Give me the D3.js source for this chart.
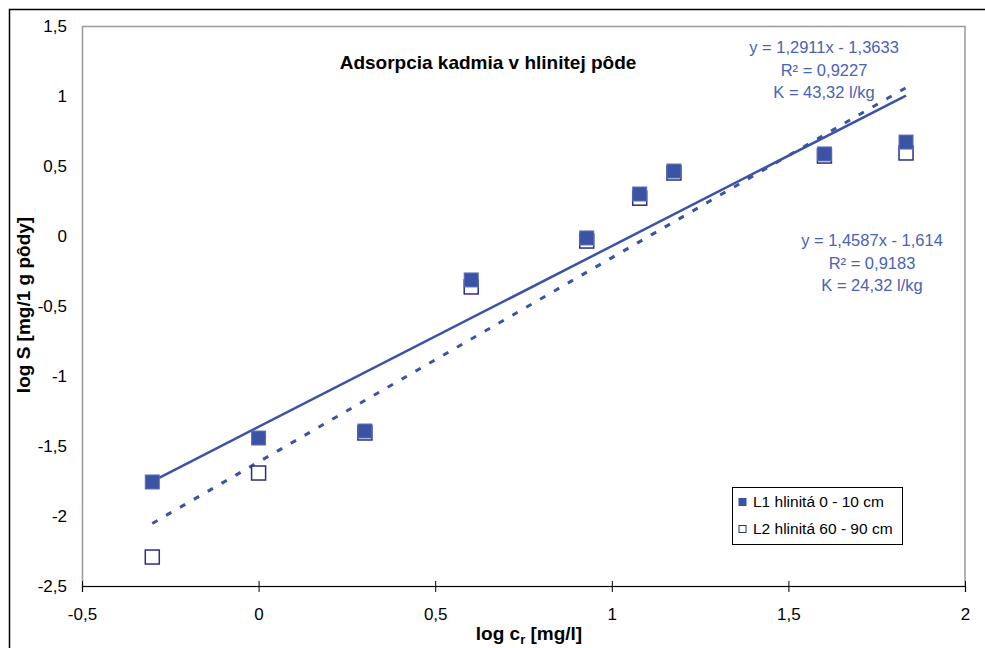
<!DOCTYPE html>
<html>
<head>
<meta charset="utf-8">
<script src="https://cdn.jsdelivr.net/npm/d3@7"></script>
<style>
  body { margin: 0; background: #fff; }
  svg { font-family: "Liberation Sans", Arial, sans-serif; }
</style>
</head>
<body>
<svg id="chart" width="985" height="648"></svg>
<script>
// data (log c_r, log S)
var logC = [-0.301, 0, 0.301, 0.602, 0.929, 1.079, 1.176, 1.602, 1.833];
var L1 = [-1.757, -1.443, -1.393, -0.314, -0.014, 0.300, 0.464, 0.586, 0.671];
var L2 = [-2.293, -1.693, -1.407, -0.364, -0.036, 0.270, 0.450, 0.571, 0.593];
var seriesNames = ["L1 hlinitá 0 - 10 cm", "L2 hlinitá 60 - 90 cm"];
var fit1 = { a: 1.2911, b: -1.3633, label: ["y = 1,2911x - 1,3633", "R² = 0,9227", "K = 43,32 l/kg"] };
var fit2 = { a: 1.4587, b: -1.614, label: ["y = 1,4587x - 1,614", "R² = 0,9183", "K = 24,32 l/kg"] };
var xTicks = [-0.5, 0, 0.5, 1, 1.5, 2];
var yTicks = [-2.5, -2, -1.5, -1, -0.5, 0, 0.5, 1, 1.5];

var blue = "#3a53a4";
var navy = "#2b2f7f";
var labelBlue = "#4863b4";

var svg = d3.select("#chart");
var margin = { top: 26, right: 20, bottom: 62, left: 82 };
var width = 965 - margin.left;
var height = 586 - margin.top;

var fmt = function(d) { return String(d).replace(".", ","); };

// outer frame (only top and left visible)
svg.append("rect")
    .attr("x", 9.5).attr("y", 9.5)
    .attr("width", 1000).attr("height", 700)
    .attr("fill", "none")
    .attr("stroke", "#000")
    .attr("stroke-width", 1.5);

var g = svg.append("g")
    .attr("transform", "translate(" + margin.left + "," + margin.top + ")");

var x = d3.scaleLinear().domain([-0.5, 2]).range([0, width]);
var y = d3.scaleLinear().domain([-2.5, 1.5]).range([height, 0]);

// plot area border
g.append("rect")
    .attr("x", 0.5).attr("y", 0.5)
    .attr("width", width - 0.5).attr("height", height)
    .attr("fill", "none")
    .attr("stroke", "#999")
    .attr("stroke-width", 1.5);

// y axis labels (no ticks)
g.append("g").selectAll("text")
    .data(yTicks)
    .enter()
    .append("text")
    .attr("x", -15)
    .attr("y", function(d) { return y(d); })
    .attr("dy", "0.35em")
    .attr("text-anchor", "end")
    .style("font-size", "17px")
    .text(fmt);

// x axis
var xAxis = d3.axisBottom(x).tickValues(xTicks).tickSize(6).tickFormat(fmt);
var xg = g.append("g")
    .attr("transform", "translate(0," + height + ")")
    .call(xAxis);
xg.select(".domain").attr("stroke", "#000").attr("stroke-width", 1.2);
xg.selectAll(".tick line").attr("y1", -5).attr("y2", 6).attr("stroke", "#000");
xg.selectAll(".tick text")
    .attr("y", 22)
    .style("font-size", "17px")
    .style("font-family", "Liberation Sans, Arial, sans-serif")
    .attr("fill", "#000");

// axis titles
var xt = svg.append("text")
    .attr("x", 529).attr("y", 640)
    .attr("text-anchor", "middle")
    .style("font-size", "19px")
    .style("font-weight", "bold");
xt.append("tspan").text("log c");
xt.append("tspan").attr("dy", 4).style("font-size", "13px").text("r");
xt.append("tspan").attr("dy", -4).text(" [mg/l]");

svg.append("text")
    .attr("transform", "translate(30,305) rotate(-90)")
    .attr("text-anchor", "middle")
    .style("font-size", "19px")
    .style("font-weight", "bold")
    .text("log S [mg/1 g pôdy]");

// title
svg.append("text")
    .attr("x", 488).attr("y", 69)
    .attr("text-anchor", "middle")
    .style("font-size", "19px")
    .style("font-weight", "bold")
    .text("Adsorpcia kadmia v hlinitej pôde");

// trend lines
var xmin = d3.min(logC), xmax = d3.max(logC);
function trend(f) {
    return [[xmin, f.a * xmin + f.b], [xmax, f.a * xmax + f.b]];
}
var line = d3.line().x(function(d) { return x(d[0]); }).y(function(d) { return y(d[1]); });

g.append("path")
    .datum(trend(fit2))
    .attr("d", line)
    .attr("fill", "none")
    .attr("stroke", blue)
    .attr("stroke-width", 3)
    .attr("stroke-dasharray", "6,10");

g.append("path")
    .datum(trend(fit1))
    .attr("d", line)
    .attr("fill", "none")
    .attr("stroke", blue)
    .attr("stroke-width", 2.5);

// markers
var ms = 14;
g.selectAll(".m2")
    .data(logC.map(function(c, i) { return [c, L2[i]]; }))
    .enter()
    .append("rect")
    .attr("class", "m2")
    .attr("x", function(d) { return x(d[0]) - ms / 2; })
    .attr("y", function(d) { return y(d[1]) - ms / 2; })
    .attr("width", ms).attr("height", ms)
    .attr("fill", "#fff")
    .attr("stroke", navy)
    .attr("stroke-width", 1.5);

g.selectAll(".m1")
    .data(logC.map(function(c, i) { return [c, L1[i]]; }))
    .enter()
    .append("rect")
    .attr("class", "m1")
    .attr("x", function(d) { return x(d[0]) - ms / 2; })
    .attr("y", function(d) { return y(d[1]) - ms / 2; })
    .attr("width", ms).attr("height", ms)
    .attr("fill", blue)
    .attr("stroke", "#5a6fb8")
    .attr("stroke-width", 1);

// trendline labels
function fitLabel(f, cx, y0) {
    svg.append("g").selectAll("text")
        .data(f.label)
        .enter()
        .append("text")
        .attr("x", cx)
        .attr("y", function(d, i) { return y0 + i * 22.5; })
        .attr("text-anchor", "middle")
        .attr("fill", labelBlue)
        .style("font-size", "16.5px")
        .text(function(d) { return d; });
}
fitLabel(fit1, 824, 53);
fitLabel(fit2, 872, 246);

// legend
var legend = svg.append("g").attr("class", "legend");
legend.append("rect")
    .attr("x", 732.5).attr("y", 487.5)
    .attr("width", 170).attr("height", 57)
    .attr("fill", "#fff")
    .attr("stroke", "#000");
seriesNames.forEach(function(name, i) {
    var ly = 502 + i * 27;
    legend.append("rect")
        .attr("x", 739).attr("y", ly - 3.5)
        .attr("width", 7).attr("height", 7)
        .attr("fill", i === 0 ? blue : "#fff")
        .attr("stroke", i === 0 ? blue : navy)
        .attr("stroke-width", 1);
    legend.append("text")
        .attr("x", 753).attr("y", ly + 5)
        .style("font-size", "15.5px")
        .text(name);
});
</script>
</body>
</html>
